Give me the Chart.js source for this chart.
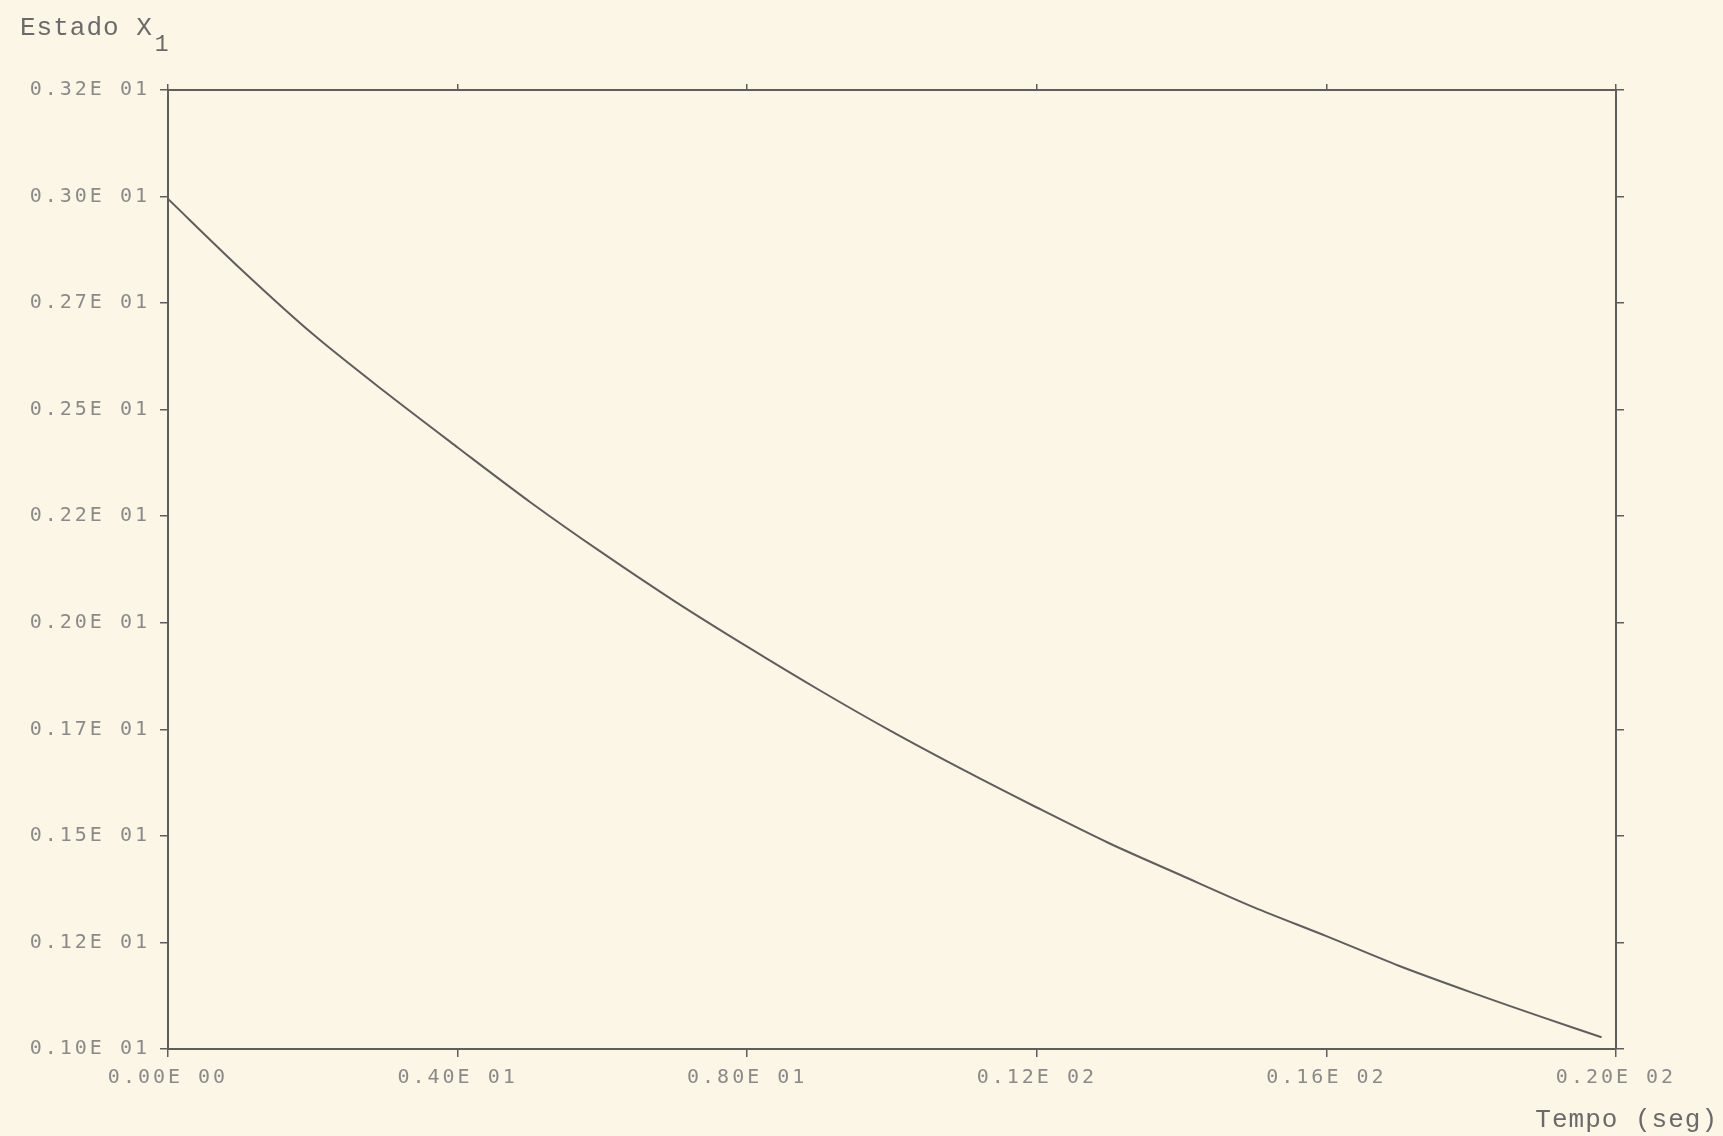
<!DOCTYPE html>
<html>
<head>
<meta charset="utf-8">
<script src="https://cdn.jsdelivr.net/npm/chart.js@4.4.1/dist/chart.umd.min.js"></script>
<style>
    html, body { margin: 0; padding: 0; background: #fcf6e6; }
    #wrap { width: 1723px; height: 1136px; position: relative; }
</style>
</head>
<body>
<div id="wrap"><canvas id="stateChart"></canvas></div>
<script>
// values
const timeValues = [0, 1, 2, 3, 4, 5, 6, 7, 8, 9, 10, 11, 12, 13, 14, 15, 16, 17, 18, 19, 19.8];
const stateValues = [2.95, 2.79, 2.64, 2.507, 2.38, 2.255, 2.138, 2.027, 1.923, 1.823, 1.728,
                     1.639, 1.554, 1.472, 1.398, 1.325, 1.259, 1.191, 1.13, 1.072, 1.027];

const xTickValues = [0, 4, 8, 12, 16, 20];
const xTickLabels = ['0.00E 00', '0.40E 01', '0.80E 01', '0.12E 02', '0.16E 02', '0.20E 02'];
const yTickValues = [1.0, 1.2444, 1.4889, 1.7333, 1.9778, 2.2222, 2.4667, 2.7111, 2.9556, 3.2];
const yTickLabels = ['0.10E 01', '0.12E 01', '0.15E 01', '0.17E 01', '0.20E 01',
                     '0.22E 01', '0.25E 01', '0.27E 01', '0.30E 01', '0.32E 01'];

const yTitle = 'Estado X';
const yTitleSub = '1';
const xTitle = 'Tempo (seg)';

const inkColor = '#5e5e5e';
const labelColor = '#8a8a8a';

function setTicks(values) {
    return function(scale) {
        scale.ticks = values.map(v => ({ value: v }));
    };
}

const typewriter = {
    id: 'typewriter',
    beforeDraw(chart) {
        chart.ctx.letterSpacing = '3px';
    },
    afterDraw(chart) {
        const ctx = chart.ctx;
        ctx.save();
        ctx.letterSpacing = '1px';
        ctx.fillStyle = '#6a6a6a';
        ctx.font = '26px "Liberation Mono"';
        ctx.textBaseline = 'alphabetic';
        ctx.textAlign = 'left';
        ctx.fillText(yTitle, 20, 35);
        const w = ctx.measureText(yTitle).width;
        ctx.font = '23px "Liberation Mono"';
        ctx.fillText(yTitleSub, 20 + w + 2, 51);
        ctx.font = '26px "Liberation Mono"';
        ctx.textAlign = 'right';
        ctx.fillText(xTitle, 1718, 1127);
        ctx.restore();
    }
};

const ctx = document.getElementById('stateChart').getContext('2d');
new Chart(ctx, {
    type: 'line',
    data: {
        datasets: [{
            data: timeValues.map((t, i) => ({ x: t, y: stateValues[i] })),
            borderColor: inkColor,
            borderWidth: 2,
            pointRadius: 0,
            tension: 0.3,
            fill: false
        }]
    },
    options: {
        responsive: true,
        maintainAspectRatio: false,
        animation: false,
        layout: { padding: { top: 90, right: 107, left: 0, bottom: 0 } },
        plugins: {
            legend: { display: false },
            tooltip: { enabled: false }
        },
        scales: {
            x: {
                type: 'linear',
                position: 'bottom',
                min: 0,
                max: 20,
                afterBuildTicks: setTicks(xTickValues),
                afterFit: scale => { scale.height = 87; },
                grid: { drawOnChartArea: false, drawTicks: true, tickLength: 8, color: inkColor, lineWidth: 1.5 },
                border: { display: true, color: inkColor, width: 2 },
                ticks: {
                    autoSkip: false,
                    maxRotation: 0,
                    padding: 9,
                    color: labelColor,
                    font: { family: 'DejaVu Sans Mono', size: 20 },
                    callback: (v, i) => xTickLabels[i]
                }
            },
            x2: {
                type: 'linear',
                position: 'top',
                min: 0,
                max: 20,
                afterBuildTicks: setTicks(xTickValues),
                afterFit: scale => { scale.height = 0; },
                grid: { drawOnChartArea: false, drawTicks: true, tickLength: 6, color: inkColor, lineWidth: 1.5 },
                border: { display: true, color: inkColor, width: 2 },
                ticks: { display: false }
            },
            y: {
                type: 'linear',
                position: 'left',
                min: 1.0,
                max: 3.2,
                afterBuildTicks: setTicks(yTickValues),
                afterFit: scale => { scale.width = 168; },
                grid: { drawOnChartArea: false, drawTicks: true, tickLength: 8, color: inkColor, lineWidth: 1.5 },
                border: { display: true, color: inkColor, width: 2 },
                ticks: {
                    autoSkip: false,
                    padding: 10,
                    color: labelColor,
                    font: { family: 'DejaVu Sans Mono', size: 20 },
                    callback: (v, i) => yTickLabels[i]
                }
            },
            y2: {
                type: 'linear',
                position: 'right',
                min: 1.0,
                max: 3.2,
                afterBuildTicks: setTicks(yTickValues),
                afterFit: scale => { scale.width = 0; },
                grid: { drawOnChartArea: false, drawTicks: true, tickLength: 8, color: inkColor, lineWidth: 1.5 },
                border: { display: true, color: inkColor, width: 2 },
                ticks: { display: false }
            }
        }
    },
    plugins: [typewriter]
});
</script>
</body>
</html>
